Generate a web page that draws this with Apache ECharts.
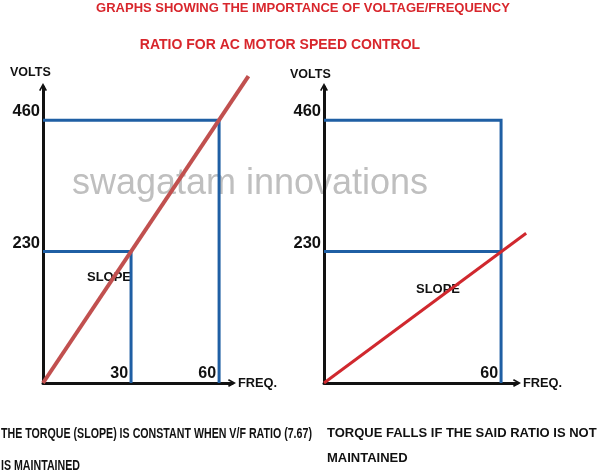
<!DOCTYPE html>
<html><head><meta charset="utf-8">
<script src="https://cdn.jsdelivr.net/npm/echarts@6/dist/echarts.min.js"></script>
<style>html,body{margin:0;padding:0;background:#fff}#c{width:600px;height:475px}</style>
</head><body><div id="c"></div>
<script>
// ---- data ----
const titleLines = ['GRAPHS SHOWING THE IMPORTANCE OF VOLTAGE/FREQUENCY', 'RATIO FOR AC MOTOR SPEED CONTROL'];
const freqTicksLeft = [30, 60];
const freqTicksRight = [60];
const voltTicks = [230, 460];
// left chart: V/F kept constant (7.67)
const leftRatioLine = [[0, 0], [70, 537]];
const leftBox460 = [[0, 460], [60, 460], [60, 0]];
const leftBox230 = [[0, 230], [30, 230], [30, 0]];
// right chart: ratio not maintained
const rightRatioLine = [[0, 0], [68.5, 262]];
const rightBox460 = [[0, 460], [60, 460], [60, 0]];
const rightBox230 = [[0, 230], [60, 230]];
const captionLeft = ['THE TORQUE (SLOPE) IS CONSTANT WHEN V/F RATIO (7.67)', 'IS MAINTAINED'];
const captionRight = ['TORQUE FALLS IF THE SAID RATIO IS NOT', 'MAINTAINED'];
const watermark = 'swagatam innovations';

const BLUE = '#1f5fa4';
const chevron = 'path://M0,9 L5,0 L10,9 L8.2,10 L5,4 L1.8,10 Z';
function xAxisCfg(gi, max, ticks) {
  return {
    type: 'value', gridIndex: gi, min: 0, max: max,
    name: 'FREQ.', nameLocation: 'end', nameGap: 6,
    nameTextStyle: {fontFamily: 'Liberation Sans', fontWeight: 'bold', fontSize: 12.8, color: '#111', verticalAlign: 'middle'},
    axisLine: {show: true, onZero: false, lineStyle: {color: '#111', width: 3}, symbol: ['none', chevron], symbolSize: [13, 8]},
    axisTick: {show: false}, splitLine: {show: false},
    axisLabel: {show: true, customValues: ticks, inside: true, margin: 1, align: 'right', verticalAlign: 'bottom', padding: [0, 3, 0, 0],
      fontFamily: 'Liberation Sans', fontWeight: 'bold', fontSize: 16, color: '#111'}
  };
}
function yAxisCfg(gi) {
  return {
    type: 'value', gridIndex: gi, min: 0, max: 518,
    axisLine: {show: true, onZero: false, lineStyle: {color: '#111', width: 3}, symbol: ['none', chevron], symbolSize: [13, 8]},
    axisTick: {show: false}, splitLine: {show: false},
    axisLabel: {show: true, customValues: voltTicks, margin: 3, verticalAlign: 'bottom',
      fontFamily: 'Liberation Sans', fontWeight: 'bold', fontSize: 16.5, color: '#111'}
  };
}
// hidden overlay axes (same scale, larger extent) so the ratio lines may run past the arrows
function hiddenAxis(gi, max) {
  return {type: 'value', gridIndex: gi, min: 0, max: max, show: false, splitLine: {show: false}};
}
function lineSeries(xi, data, color, width, z) {
  return {type: 'line', xAxisIndex: xi, yAxisIndex: xi, data: data, symbol: 'none', clip: false, z: z || 2,
    lineStyle: {color: color, width: width, cap: 'butt', join: 'miter'}, animation: false};
}
const txt = (x, y, text, style, extra) => Object.assign({type: 'text', x: x, y: y, silent: true,
  style: Object.assign({text: text, fill: '#111', fontFamily: 'Liberation Sans', fontWeight: 'bold', fontSize: 12, verticalAlign: 'middle'}, style)}, extra || {});

const chart = echarts.init(document.getElementById('c'), null, {renderer: 'canvas'});
chart.setOption({
  backgroundColor: '#fff',
  animation: false,
  grid: [
    {left: 43, top: 87, width: 189, height: 296},
    {left: 324, top: 87, width: 193, height: 296},
    {left: 43, top: 53, width: 220, height: 330},
    {left: 324, top: 53, width: 220, height: 330}
  ],
  xAxis: [xAxisCfg(0, 64.4, freqTicksLeft), xAxisCfg(1, 65.4, freqTicksRight), hiddenAxis(2, 74.96), hiddenAxis(3, 74.55)],
  yAxis: [yAxisCfg(0), yAxisCfg(1), hiddenAxis(2, 577.5), hiddenAxis(3, 577.5)],
  series: [
    lineSeries(0, leftBox460, BLUE, 3),
    lineSeries(0, leftBox230, BLUE, 3),
    lineSeries(2, leftRatioLine, '#c1504f', 4, 3),
    lineSeries(1, rightBox460, BLUE, 3),
    lineSeries(1, rightBox230, BLUE, 3),
    lineSeries(3, rightRatioLine, '#d0282e', 3, 3)
  ],
  graphic: [
    txt(303, 8, titleLines[0], {fill: '#d8262c', fontSize: 13, align: 'center'}),
    txt(280, 45, titleLines[1], {fill: '#d8262c', fontSize: 14, align: 'center'}),
    txt(250, 184, watermark, {fill: '#bfbfbf', fontWeight: 'normal', fontSize: 36, align: 'center'}, {z: -1}),
    txt(10, 73, 'VOLTS', {fontSize: 12.5}),
    txt(290, 75, 'VOLTS', {fontSize: 12.5}),
    txt(109, 277, 'SLOPE', {fontSize: 13, align: 'center'}),
    txt(438, 289, 'SLOPE', {fontSize: 13, align: 'center'}),
    txt(1, 434, captionLeft[0], {fontSize: 14}, {scaleX: 0.76}),
    txt(1, 466, captionLeft[1], {fontSize: 14}, {scaleX: 0.76}),
    txt(327, 433, captionRight[0], {fontSize: 13}),
    txt(327, 458, captionRight[1], {fontSize: 13})
  ]
});
</script></body></html>
